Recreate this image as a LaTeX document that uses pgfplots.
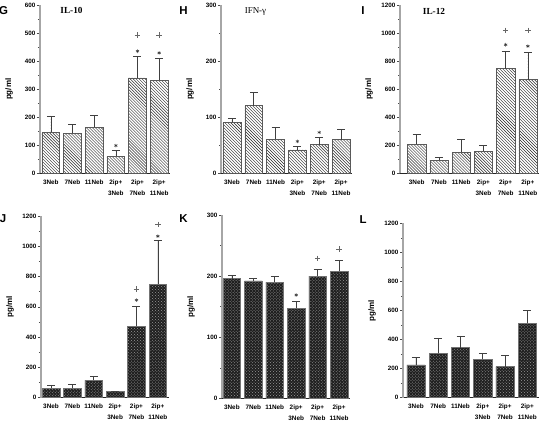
\documentclass[border=0pt]{standalone}
\usepackage{pgfplots}
\pgfplotsset{compat=1.18}
\usepackage{fontspec}
\setmainfont{Liberation Sans}
\newfontfamily\tnr{Liberation Serif}
\usetikzlibrary{patterns}

\pgfplotsset{
  base/.style={
    scale only axis,
    clip=false,
    axis x line*=bottom, axis y line*=left,
    x axis line style={-, black!85, line width=0.7pt},
    y axis line style={-, black!35, line width=1.1pt},
    xmax=5.5,
    xtick={0,...,5},
    xticklabels={3Neb,7Neb,11Neb,{2ip+\\3Neb},{2ip+\\7Neb},{2ip+\\11Neb}},
    x tick style={draw=none},
    xticklabel style={align=center, font=\fontsize{6.4}{11.5}\selectfont\bfseries, inner sep=1pt, yshift=-2bp},
    yticklabel style={font=\fontsize{6.3}{7}\selectfont\bfseries, /pgf/number format/assume math mode=true, /pgf/number format/1000 sep={}, inner sep=1.5pt},
    tick align=outside,
    major tick length=3bp, minor tick length=2bp,
    y tick style={black!70, line width=0.5pt},
    minor y tick num=1,
    ymin=0,
    ylabel={pg/ml},
    every axis y label/.style={at={([xshift=-31bp]rel axis cs:0,0.5)}, anchor=center, rotate=90, font=\fontsize{8}{9}\selectfont\bfseries},
    error bars/y dir=plus, error bars/y explicit,
    error bars/error bar style={draw=black!75, line width=0.6pt},
    error bars/error mark options={rotate=90, mark size=4bp, line width=0.6pt, draw=black!75},
  },
  hatch/.style={ybar, bar width=0.82, pattern=north west lines, pattern color=black!85, draw=black!65, line width=0.5pt},
  dotbar/.style={ybar, bar width=0.82, fill=black!88, draw=black!55, line width=0.5pt, postaction={pattern=crosshatch dots, pattern color=black!40}},
  star/.style={only marks, mark=asterisk, mark size=1.8pt, mark options={line width=0.5pt, draw=black!80}},
  plusm/.style={only marks, mark=+, mark size=2.8pt, mark options={line width=0.45pt, draw=black!60}},
}
\tikzset{
  letter/.style={font=\fontsize{11.5}{12}\selectfont\bfseries},
  ttl/.style={font=\tnr\bfseries\fontsize{9.3}{10}\selectfont},
}

\begin{document}
\begin{tikzpicture}
\useasboundingbox (0,0) rectangle (542bp,421bp);

% G
\begin{axis}[base, at={(40bp,247.7bp)}, anchor=south west, width=130bp, height=168bp,
  xmin=-0.5, ymax=600, ytick={0,100,...,600}]
\addplot[hatch] coordinates {(0,146) +- (0,59) (1,143) +- (0,32) (2,164) +- (0,43) (3,60) +- (0,21) (4,341) +- (0,76) (5,332) +- (0,77)};
\addplot[star] coordinates {(3,99) (4,436) (5,430)};
\addplot[plusm] coordinates {(4,494) (5,494)};
\node[letter] at ([xshift=-36.5bp,yshift=-5.7bp]rel axis cs:0,1) {G};
\node[ttl] at ([xshift=31.5bp,yshift=-4.7bp]rel axis cs:0,1) {IL-10};
\end{axis}

% H
\begin{axis}[base, at={(221bp,247.7bp)}, anchor=south west, width=131bp, height=168bp,
  xmin=-0.5, ymax=300, ytick={0,100,200,300}]
\addplot[hatch] coordinates {(0,91) +- (0,7) (1,121) +- (0,23) (2,61) +- (0,21) (3,42) +- (0,7) (4,51) +- (0,13) (5,60) +- (0,18)};
\addplot[star] coordinates {(3,57) (4,73)};
\node[letter] at ([xshift=-37.5bp,yshift=-5.7bp]rel axis cs:0,1) {H};
\node[font=\tnr\fontsize{9}{10}\selectfont] at ([xshift=34.5bp,yshift=-6bp]rel axis cs:0,1) {IFN-γ};
\end{axis}

% I
\begin{axis}[base, at={(400bp,247.7bp)}, anchor=south west, width=139bp, height=168bp,
  xmin=-0.75, ymax=1200, ytick={0,200,...,1200}]
\addplot[hatch] coordinates {(0,206) +- (0,76) (1,93) +- (0,21) (2,149) +- (0,91) (3,156) +- (0,43) (4,747) +- (0,126) (5,669) +- (0,192)};
\addplot[star] coordinates {(4,918) (5,908)};
\addplot[plusm] coordinates {(4,1020) (5,1020)};
\node[letter] at ([xshift=-37bp,yshift=-5bp]rel axis cs:0,1) {I};
\node[ttl] at ([xshift=34bp,yshift=-6bp]rel axis cs:0,1) {IL-12};
\end{axis}

% J
\begin{axis}[base, at={(41bp,23.3bp)}, anchor=south west, width=127.5bp, height=181.8bp,
  xmin=-0.47, ymax=1200, ytick={0,200,...,1200}]
\addplot[dotbar] coordinates {(0,62) +- (0,22) (1,62) +- (0,26) (2,114) +- (0,29) (3,40) +- (0,4) (4,470) +- (0,134) (5,750) +- (0,290)};
\addplot[star] coordinates {(4,644) (5,1066)};
\addplot[plusm] coordinates {(4,716) (5,1143)};
\node[letter] at ([xshift=-38bp,yshift=-3bp]rel axis cs:0,1) {J};
\end{axis}

% K
\begin{axis}[base, at={(222bp,22.7bp)}, anchor=south west, width=127.8bp, height=183.3bp,
  xmin=-0.46, ymax=300, ytick={0,100,200,300}]
\addplot[dotbar] coordinates {(0,196) +- (0,5) (1,192) +- (0,4) (2,190) +- (0,9) (3,147) +- (0,11) (4,200) +- (0,11) (5,208) +- (0,18)};
\addplot[star] coordinates {(3,169)};
\addplot[plusm] coordinates {(4,229) (5,244)};
\node[letter] at ([xshift=-38.5bp,yshift=-3.5bp]rel axis cs:0,1) {K};
\end{axis}

% L
\begin{axis}[base, at={(403bp,23.3bp)}, anchor=south west, width=135.5bp, height=174.4bp,
  xmin=-0.58, ymax=1200, ytick={0,200,...,1200}]
\addplot[dotbar] coordinates {(0,225) +- (0,53) (1,305) +- (0,106) (2,345) +- (0,80) (3,263) +- (0,41) (4,213) +- (0,77) (5,512) +- (0,88)};
\node[letter] at ([xshift=-40bp,yshift=3.3bp]rel axis cs:0,1) {L};
\end{axis}
\end{tikzpicture}
\end{document}
